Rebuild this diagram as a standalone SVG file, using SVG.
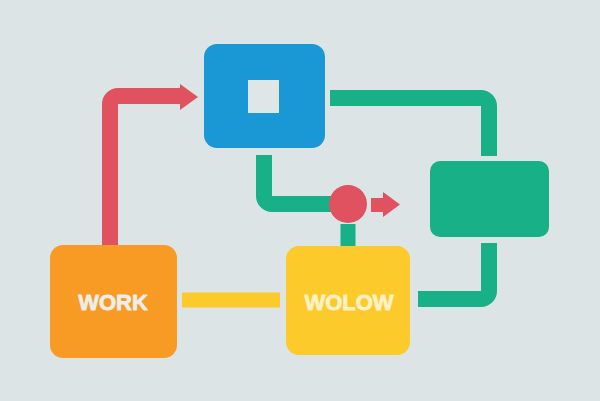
<svg xmlns="http://www.w3.org/2000/svg" width="600" height="401" viewBox="0 0 600 401">
<style>
.conn{fill:none;stroke-width:16;stroke-linejoin:round}
.red{stroke:#e05260}
.grn{stroke:#17b087}
.ylw{stroke:#fdca2c}
.lbl{font-family:"Liberation Sans",Arial,sans-serif;font-weight:700;font-size:22px;text-anchor:middle;stroke-width:0.8;stroke-linejoin:round}
</style>
<rect x="0" y="0" width="600" height="401" fill="#dce4e5"/>
<g id="connectors">
<path class="conn red" d="M110,246 V104 A8,8 0 0 1 118,96 H182"/>
<polygon points="180,84 198,97 180,110" fill="#e05260"/>
<path class="conn grn" d="M330,98 H481 A8,8 0 0 1 489,106 V156"/>
<path class="conn grn" d="M489,243 V291 A8,8 0 0 1 481,299 H418"/>
<path class="conn grn" d="M264,155 V196 A8,8 0 0 0 272,204 H332"/>
<path class="conn grn" d="M348,224 V247" style="stroke-width:15"/>
<path class="conn ylw" d="M182,300 H280" style="stroke-width:15"/>
<path class="conn red" d="M371,205 H385" style="stroke-width:14"/>
<polygon points="383,192 400,204.5 383,217" fill="#e05260"/>
</g>
<g id="node-work">
<rect x="50" y="245" width="127" height="113" rx="13" fill="#f89b25"/>
<text class="lbl" x="113" y="310" fill="#eceeea" stroke="#eceeea">WORK</text>
</g>
<g id="node-wolow">
<rect x="286" y="246" width="124" height="109" rx="13" fill="#fdca2c"/>
<text class="lbl" x="349" y="310" fill="#fdf1c6" stroke="#fdf1c6">WOLOW</text>
</g>
<g id="node-blue">
<rect x="204" y="44" width="121" height="104" rx="13" fill="#1a97d5"/>
<rect x="248" y="80" width="31" height="33" fill="#dfe6e8"/>
</g>
<g id="node-green">
<rect x="430" y="161" width="119" height="76" rx="10" fill="#17b087"/>
</g>
<g id="node-circle">
<circle cx="348" cy="204" r="19" fill="#e05260"/>
</g>
</svg>
